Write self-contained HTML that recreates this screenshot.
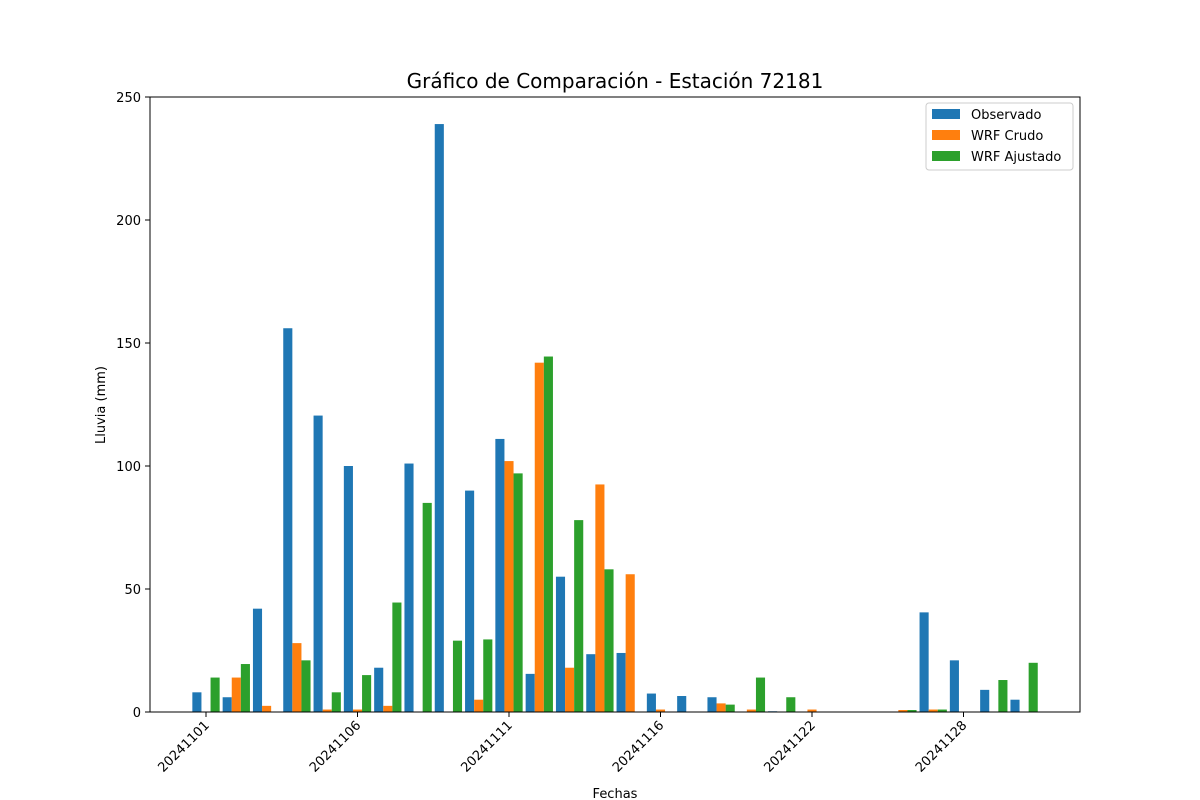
<!DOCTYPE html>
<html><head><meta charset="utf-8"><style>
body{margin:0;background:#fff;}
svg{display:block;font-family:"DejaVu Sans","Liberation Sans",sans-serif;}
</style></head><body>
<svg id="chart" width="1200" height="800">
<text x="615" y="88" text-anchor="middle" font-size="20">Gráfico de Comparación - Estación 72181</text>
<g id="bars"></g>
<g id="xaxis"></g>
<g id="yaxis"></g>
<rect x="150" y="97" width="930" height="615" fill="none" stroke="#000" stroke-width="1"/>
<text x="615" y="798" text-anchor="middle" font-size="13">Fechas</text>
<text transform="translate(105,405) rotate(-90)" text-anchor="middle" font-size="13">Lluvia (mm)</text>
<g>
<rect x="926" y="103" width="147" height="67" fill="#fff" stroke="#ccc" rx="3"/>
<g><rect x="932" y="109" width="28" height="10" fill="#1f77b4"/><text x="971" y="119" font-size="13">Observado</text></g>
<g><rect x="932" y="130" width="28" height="10" fill="#ff7f0e"/><text x="971" y="140" font-size="13">WRF Crudo</text></g>
<g><rect x="932" y="151" width="28" height="10" fill="#2ca02c"/><text x="971" y="161" font-size="13">WRF Ajustado</text></g>
</g>
</svg>
<script>
const dates = ["20241101","20241102","20241103","20241104","20241105","20241106","20241107","20241108","20241109","20241110","20241111","20241112","20241113","20241114","20241115","20241116","20241117","20241118","20241119","20241121","20241122","20241123","20241124","20241125","20241127","20241128","20241129","20241130"];
const observado = [8,6,42,156,120.5,100,18,101,239,90,111,15.5,55,23.5,24,7.5,6.5,6,0,0.3,0,0,0,0,40.5,21,9,5];
const wrfCrudo = [0,14,2.5,28,1,1,2.5,0,0,5,102,142,18,92.5,56,1,0,3.5,1,0,1,0,0,0.8,1,0,0,0];
const wrfAjustado = [14,19.5,0,21,8,15,44.5,85,29,29.5,97,144.5,78,58,0,0,0,3,14,6,0,0,0,0.8,1,0,13,20];
const yTicks = [0,50,100,150,200,250];
const tickEvery = 5;

const NS="http://www.w3.org/2000/svg";
const x = i => 206 + i*30.3;
const y = v => 712 - v*2.46;
const bw = 9.1;
const series = [[observado,"#1f77b4",-1,"bar-observado"],[wrfCrudo,"#ff7f0e",0,"bar-wrf-crudo"],[wrfAjustado,"#2ca02c",1,"bar-wrf-ajustado"]];
const bars=document.getElementById("bars");
series.forEach(([vals,col,off,nm])=>{
  vals.forEach((v,i)=>{
    const r=document.createElementNS(NS,"rect");
    const cx=x(i)+off*bw;
    r.setAttribute("x",cx-bw/2);
    r.setAttribute("y",y(v));
    r.setAttribute("width",bw);
    r.setAttribute("height",712-y(v));
    r.setAttribute("fill",col);
    
    
    bars.appendChild(r);
  });
});
const xa=document.getElementById("xaxis");
dates.forEach((d,i)=>{
  if(i%tickEvery) return;
  const t=document.createElementNS(NS,"line");
  t.setAttribute("x1",x(i));t.setAttribute("x2",x(i));t.setAttribute("y1",712);t.setAttribute("y2",717);t.setAttribute("stroke","#000");
  
  
  xa.appendChild(t);
  const l=document.createElementNS(NS,"text");
  l.setAttribute("transform",`translate(${x(i)+4},${726}) rotate(-45)`);
  l.setAttribute("text-anchor","end");l.setAttribute("font-size","13");
  l.textContent=d;
  
  
  xa.appendChild(l);
});
const ya=document.getElementById("yaxis");
yTicks.forEach(v=>{
  const t=document.createElementNS(NS,"line");
  t.setAttribute("x1",145);t.setAttribute("x2",150);t.setAttribute("y1",y(v));t.setAttribute("y2",y(v));t.setAttribute("stroke","#000");
  
  
  ya.appendChild(t);
  const l=document.createElementNS(NS,"text");
  l.setAttribute("x",141);l.setAttribute("y",y(v)+5);l.setAttribute("text-anchor","end");l.setAttribute("font-size","13");
  l.textContent=v;
  
  
  ya.appendChild(l);
});
</script>
</body></html>
